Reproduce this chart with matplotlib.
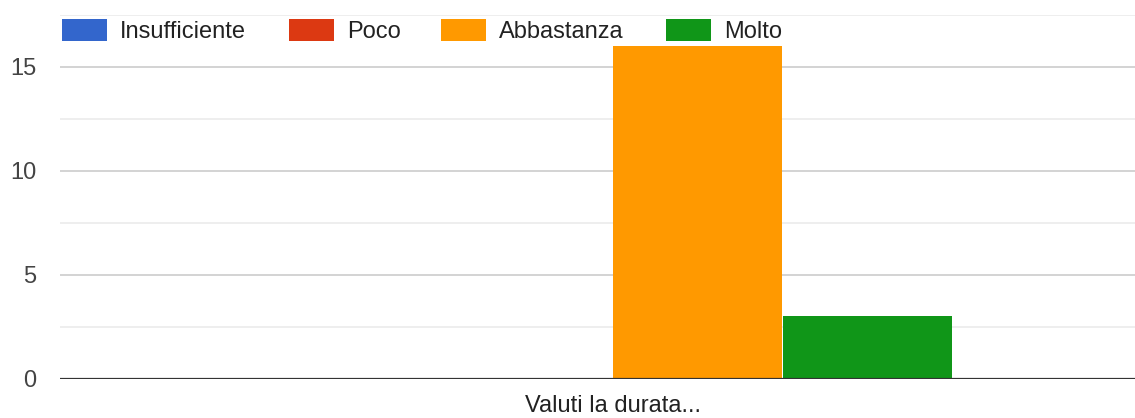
import matplotlib
matplotlib.use("Agg")
import matplotlib.pyplot as plt
from matplotlib.patches import Rectangle
import numpy as np

categories = ["Valuti la durata..."]
series = ["Insufficiente", "Poco", "Abbastanza", "Molto"]
values = [[0], [0], [16], [3]]
colors = ["#3366cc", "#dc3912", "#ff9900", "#109618"]
yticks = [0, 5, 10, 15]

W, H = 1135, 418
fig = plt.figure(figsize=(W / 100, H / 100), dpi=100)
plt.rcParams["font.family"] = ["Liberation Sans", "DejaVu Sans"]

left, right = 60 / W, 1.0
bottom, top = 1 - 378.5 / H, 1 - 15 / H
ax = fig.add_axes([left, bottom, right - left, top - bottom])

n = len(series)
bw = 1.0
x = np.arange(len(categories))
for i, (s, v, c) in enumerate(zip(series, values, colors)):
    pos = x + (i - (n - 1) / 2) * bw
    ax.bar(pos, v, width=bw * 0.994, color=c, label=s, zorder=3)

ax.set_xlim(-3.25, 3.07)
ax.set_ylim(0, 17.5)
ax.set_yticks(yticks)
ax.set_yticks([2.5, 7.5, 12.5, 17.5], minor=True)
ax.set_xticks(x)
ax.set_xticklabels(categories)
ax.grid(axis="y", which="major", color="#cccccc", linewidth=1.2, zorder=0)
ax.grid(axis="y", which="minor", color="#ebebeb", linewidth=1.2, zorder=0)
ax.axhline(0, color="#333333", linewidth=1.6, zorder=4)
for sp in ax.spines.values():
    sp.set_visible(False)
ax.tick_params(axis="both", which="both", length=0)
ax.tick_params(axis="y", labelsize=17, labelcolor="#444444", pad=17)
ax.tick_params(axis="x", labelsize=17, labelcolor="#222222", pad=12)
for t in ax.get_yticklabels():
    t.set_horizontalalignment("right")

# legend drawn in figure pixels
leg_x = [62, 289, 441, 666]
for lx, s, c in zip(leg_x, series, colors):
    fig.patches.append(Rectangle((lx / W, 1 - 41 / H), 45 / W, 22 / H,
                                 transform=fig.transFigure, facecolor=c,
                                 edgecolor="none", zorder=10))
    fig.text((lx + 58) / W, 1 - 32.5 / H, s, fontsize=17, color="#222222",
             va="center", ha="left", zorder=10)

fig.savefig("out.png", dpi=100, facecolor="white")
